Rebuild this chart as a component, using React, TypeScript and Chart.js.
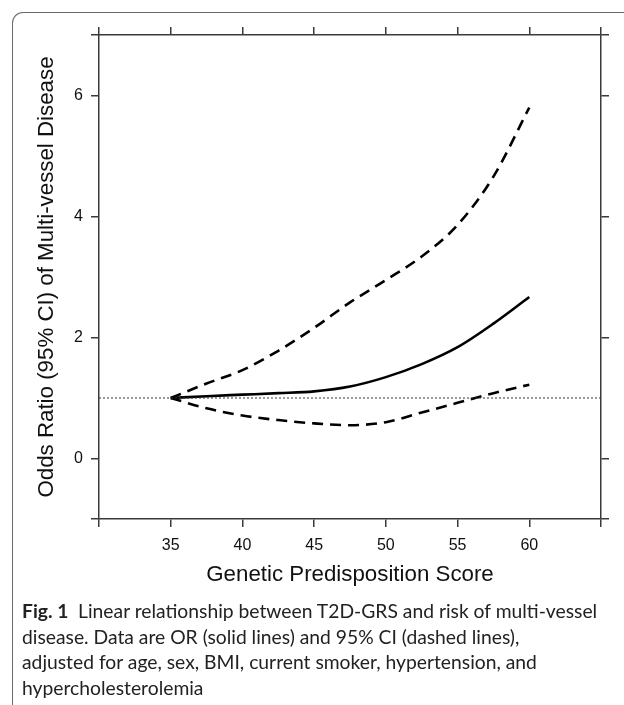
import React, { useEffect, useRef } from 'react';
import { Chart, registerables } from 'chart.js';

Chart.register(...registerables);

// ---- data ----
const scoreX = [35, 37.5, 40, 42.5, 45, 47.5, 50, 52.5, 55, 57.5, 60];
const oddsRatio = [1.0, 1.03, 1.055, 1.08, 1.11, 1.19, 1.345, 1.56, 1.84, 2.23, 2.67];
const upperCI = [1.0, 1.24, 1.46, 1.78, 2.16, 2.58, 2.95, 3.34, 3.86, 4.66, 5.8];
const lowerCI = [1.0, 0.83, 0.71, 0.635, 0.58, 0.55, 0.6, 0.76, 0.92, 1.08, 1.22];
const referenceLevel = 1;

const xRange = [30, 65];
const yRange = [-1, 7];
const xTickValues = [30, 35, 40, 45, 50, 55, 60, 65];
const xTickLabels = [35, 40, 45, 50, 55, 60];
const yTickValues = [-1, 0, 2, 4, 6, 7];
const yTickLabels = [0, 2, 4, 6];

const xTitle = 'Genetic Predisposition Score';
const yTitle = 'Odds Ratio (95% CI) of Multi-vessel Disease';
const captionLabel = 'Fig. 1';
const captionLines = [
  'Linear relationship between T2D-GRS and risk of multi-vessel',
  'disease. Data are OR (solid lines) and 95% CI (dashed lines),',
  'adjusted for age, sex, BMI, current smoker, hypertension, and',
  'hypercholesterolemia',
];

const AXIS_FONT = '"Liberation Sans", Arial, sans-serif';
const AXIS_COLOR = '#3a3a3a';

function pts(ys: number[]) {
  return scoreX.map((x, i) => ({ x, y: ys[i] }));
}

export default function App() {
  const ref = useRef<HTMLCanvasElement | null>(null);

  useEffect(() => {
    if (!ref.current) return;
    const gridOpts = {
      drawOnChartArea: false,
      drawTicks: true,
      tickLength: 8,
      color: AXIS_COLOR,
      lineWidth: 1.5,
    };
    const borderOpts = { display: true, color: AXIS_COLOR, width: 1.5 };
    const setX = (s: any) => {
      s.ticks = xTickValues.map((v) => ({ value: v }));
    };
    const setY = (s: any) => {
      s.ticks = yTickValues.map((v) => ({ value: v }));
    };
    const lineBase = {
      pointRadius: 0,
      borderColor: '#000',
      borderWidth: 2.6,
      cubicInterpolationMode: 'monotone' as const,
      fill: false,
    };
    const chart = new Chart(ref.current, {
      type: 'line',
      data: {
        datasets: [
          {
            ...lineBase,
            data: [
              { x: xRange[0], y: referenceLevel },
              { x: xRange[1], y: referenceLevel },
            ],
            borderWidth: 1,
            borderColor: '#333',
            borderDash: [2, 2],
          },
          { ...lineBase, data: pts(upperCI), borderDash: [11, 7] },
          { ...lineBase, data: pts(lowerCI), borderDash: [11, 7] },
          { ...lineBase, data: pts(oddsRatio) },
        ],
      },
      options: {
        animation: false,
        responsive: false,
        devicePixelRatio: 1,
        layout: { padding: 0, autoPadding: false },
        plugins: { legend: { display: false }, tooltip: { enabled: false } },
        scales: {
          x: {
            type: 'linear',
            position: 'bottom',
            min: xRange[0],
            max: xRange[1],
            afterBuildTicks: setX,
            afterFit: (s: any) => {
              s.height = 81;
            },
            ticks: {
              autoSkip: false,
              maxRotation: 0,
              padding: 9,
              color: '#111',
              font: { family: AXIS_FONT, size: 16 },
              callback: (v: any) => (xTickLabels.includes(Number(v)) ? String(v) : ''),
            },
            grid: gridOpts,
            border: borderOpts,
            title: {
              display: true,
              text: xTitle,
              color: '#111',
              font: { family: AXIS_FONT, size: 22.3 },
              padding: { top: 0, bottom: 12 },
            },
          },
          x2: {
            type: 'linear',
            position: 'top',
            min: xRange[0],
            max: xRange[1],
            afterBuildTicks: setX,
            afterFit: (s: any) => {
              s.height = 35;
            },
            ticks: { display: false },
            grid: gridOpts,
            border: borderOpts,
          },
          y: {
            type: 'linear',
            position: 'left',
            min: yRange[0],
            max: yRange[1],
            afterBuildTicks: setY,
            afterFit: (s: any) => {
              s.width = 99;
            },
            ticks: {
              autoSkip: false,
              padding: 8,
              color: '#111',
              font: { family: AXIS_FONT, size: 16 },
              callback: (v: any) => (yTickLabels.includes(Number(v)) ? String(v) : ''),
            },
            grid: gridOpts,
            border: borderOpts,
            title: {
              display: true,
              text: yTitle,
              color: '#111',
              font: { family: AXIS_FONT, size: 22.3 },
              padding: { top: 33, bottom: 0 },
            },
          },
          y2: {
            type: 'linear',
            position: 'right',
            min: yRange[0],
            max: yRange[1],
            afterBuildTicks: setY,
            afterFit: (s: any) => {
              s.width = 23;
            },
            ticks: { display: false },
            grid: gridOpts,
            border: borderOpts,
          },
        },
      },
    });
    return () => chart.destroy();
  }, []);

  return (
    <div style={{ position: 'absolute', left: 0, top: 0, width: 624, height: 705, overflow: 'hidden', background: '#fff' }}>
      <div
        style={{
          position: 'absolute',
          left: 12,
          top: 12,
          width: 630,
          height: 720,
          borderLeft: '1px solid #6a6a6a',
          borderTop: '1px solid #6a6a6a',
          borderTopLeftRadius: 11,
          boxSizing: 'border-box',
        }}
      />
      <canvas ref={ref} width={624} height={600} style={{ position: 'absolute', left: 0, top: 0, display: 'block' }} />
      <div
        style={{
          position: 'absolute',
          left: 22,
          top: 598,
          fontFamily: 'Lato, "Open Sans", sans-serif',
          fontSize: 19.3,
          lineHeight: '25.6px',
          color: '#222',
          whiteSpace: 'nowrap',
        }}
      >
        <div>
          <b>{captionLabel}</b>
          {'\u2002'}
          {captionLines[0]}
        </div>
        {captionLines.slice(1).map((l, i) => (
          <div key={i}>{l}</div>
        ))}
      </div>
    </div>
  );
}
